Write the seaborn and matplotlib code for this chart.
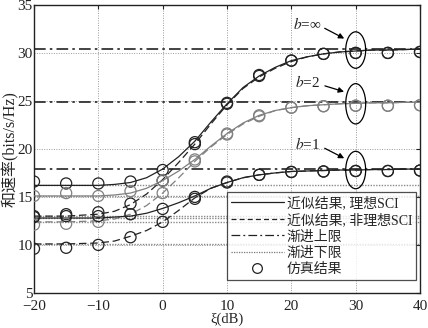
import numpy as np
import pandas as pd
import matplotlib
matplotlib.use("Agg")
import matplotlib.pyplot as plt
from matplotlib.patches import Ellipse
from matplotlib.lines import Line2D
import seaborn as sns

# SNR axis (dB) for analytic curves and simulation points
xi_curve = [-20, -17.5, -15, -12.5, -10, -7.5, -5, -2.5, 0, 2.5, 5, 7.5, 10,
            12.5, 15, 17.5, 20, 22.5, 25, 27.5, 30, 32.5, 35, 37.5, 40]
xi_sim = [-20, -15, -10, -5, 0, 5, 10, 15, 20, 25, 30, 35, 40]

# analytic approximations (bits/s/Hz)
binf_ideal = [16.2, 16.2, 16.2, 16.2, 16.2, 16.3, 16.5, 17.0, 17.9, 19.2, 20.8, 22.8, 24.7,
              26.4, 27.6, 28.5, 29.2, 29.6, 29.9, 30.1, 30.2, 30.3, 30.3, 30.35, 30.4]
binf_nonideal = [13.0, 13.0, 13.0, 13.1, 13.2, 13.5, 14.2, 15.3, 16.8, 18.6, 20.5, 22.6, 24.6,
                 26.3, 27.5, 28.4, 29.1, 29.6, 29.9, 30.1, 30.2, 30.3, 30.3, 30.35, 30.4]
b2_ideal = [15.1, 15.1, 15.1, 15.1, 15.1, 15.2, 15.4, 15.9, 16.7, 17.7, 18.9, 20.3, 21.6,
            22.7, 23.5, 24.0, 24.3, 24.5, 24.6, 24.7, 24.75, 24.8, 24.8, 24.85, 24.85]
b2_nonideal = [12.4, 12.4, 12.4, 12.45, 12.5, 12.7, 13.2, 14.1, 15.4, 17.0, 18.7, 20.2, 21.5,
               22.6, 23.4, 24.0, 24.3, 24.5, 24.6, 24.7, 24.75, 24.8, 24.8, 24.85, 24.85]
b1_ideal = [12.8, 12.8, 12.8, 12.8, 12.8, 12.9, 13.0, 13.3, 13.8, 14.4, 15.1, 15.9, 16.5,
            17.0, 17.3, 17.5, 17.65, 17.7, 17.75, 17.8, 17.8, 17.85, 17.85, 17.9, 17.9]
b1_nonideal = [10.1, 10.1, 10.1, 10.15, 10.2, 10.4, 10.9, 11.5, 12.4, 13.6, 14.9, 15.9, 16.5,
               17.0, 17.3, 17.5, 17.65, 17.7, 17.75, 17.8, 17.8, 17.85, 17.85, 17.9, 17.9]

# Monte-Carlo simulation results
sim_binf_ideal = [16.6, 16.4, 16.4, 16.6, 17.8, 20.7, 24.8, 27.7, 29.2, 29.9, 30.0, 30.0, 30.1]
sim_binf_nonideal = [13.0, 13.2, 13.4, 14.3, 16.7, 20.5, 24.7, 27.6, 29.2, 29.9, 30.0, 30.0, 30.1]
sim_b2_ideal = [15.1, 15.4, 15.1, 15.6, 16.7, 18.9, 21.6, 23.5, 24.3, 24.45, 24.5, 24.5, 24.55]
sim_b2_nonideal = [12.1, 12.2, 12.4, 13.2, 15.4, 18.7, 21.5, 23.4, 24.3, 24.45, 24.5, 24.5, 24.55]
sim_b1_ideal = [12.9, 13.0, 13.0, 13.2, 13.75, 15.0, 16.6, 17.3, 17.6, 17.65, 17.7, 17.7, 17.75]
sim_b1_nonideal = [9.6, 9.7, 10.0, 10.8, 12.4, 14.8, 16.5, 17.3, 17.6, 17.65, 17.7, 17.7, 17.75]

# asymptotic bounds
upper_bounds = [30.4, 24.9, 17.9]
lower_bounds = [16.2, 15.1, 13.0, 12.8, 12.4, 10.1]

x_ticks = [-20, -10, 0, 10, 20, 30, 40]
y_ticks = [5, 10, 15, 20, 25, 30, 35]

sns.set_style("white")
plt.rcParams["font.family"] = ["Liberation Serif", "Noto Sans CJK SC"]
plt.rcParams["mathtext.fontset"] = "stix"

fig = plt.figure(figsize=(4.28, 3.28), dpi=100)
ax = fig.add_axes([0.0794, 0.107, 0.902, 0.878])

BLACK = "#222222"
GRAY = "#808080"

curves = [
    ("binf_ideal", binf_ideal, BLACK, "-"),
    ("binf_nonideal", binf_nonideal, BLACK, (0, (6, 3))),
    ("b2_ideal", b2_ideal, GRAY, "-"),
    ("b2_nonideal", b2_nonideal, GRAY, (0, (6, 3))),
    ("b1_ideal", b1_ideal, BLACK, "-"),
    ("b1_nonideal", b1_nonideal, BLACK, (0, (6, 3))),
]
sims = [
    (sim_binf_ideal, BLACK), (sim_binf_nonideal, BLACK),
    (sim_b2_ideal, GRAY), (sim_b2_nonideal, GRAY),
    (sim_b1_ideal, BLACK), (sim_b1_nonideal, BLACK),
]

dashdot = (0, (7, 2.5, 1.5, 2.5))

# grid
ax.set_xlim(-20, 40)
ax.set_ylim(5, 35)
ax.set_xticks(x_ticks)
ax.set_yticks(y_ticks)
ax.grid(True, color="#9a9a9a", linestyle=(0, (1, 1.5)), linewidth=0.7)
ax.set_axisbelow(True)

# asymptotes
for v in lower_bounds:
    ax.axhline(v, color="#8a8a8a", linestyle=(0, (1, 1)), linewidth=1.0, zorder=1)
for v in upper_bounds:
    ax.axhline(v, color=BLACK, linestyle=dashdot, linewidth=1.2, zorder=2)

# analytic curves
for name, vals, col, ls in curves:
    df = pd.DataFrame({"xi": xi_curve, "rate": vals})
    sns.lineplot(data=df, x="xi", y="rate", ax=ax, color=col, linewidth=0.9,
                 linestyle=ls, zorder=3)

# simulation markers
for vals, col in sims:
    df = pd.DataFrame({"xi": xi_sim, "rate": vals})
    sns.scatterplot(data=df, x="xi", y="rate", ax=ax, marker="o", s=64,
                    facecolor="none", edgecolor=col, linewidth=0.9, zorder=4)

# annotations: ellipses with arrows
for yc, h, label, ty in [(30.3, 3.8, r"$b$=∞", 33.0), (24.7, 4.2, r"$b$=2", 26.95),
                         (17.8, 3.9, r"$b$=1", 20.5)]:
    ax.add_patch(Ellipse((30, yc), 3.1, h, fill=False, edgecolor="black",
                         linewidth=0.9, zorder=5))
    ax.annotate("", xy=(28.6, yc + h * 0.28), xytext=(24.8, ty - 0.3),
                arrowprops=dict(arrowstyle="-|>", color="black", lw=0.9,
                                mutation_scale=8))
    ax.text(22.5, ty, label, ha="center", va="center", fontsize=11, color=BLACK)

for s in ax.spines.values():
    s.set_color(BLACK)
    s.set_linewidth(1.0)
ax.tick_params(axis="both", labelsize=11, length=3, direction="in", colors=BLACK,
               top=True, right=True)
ax.tick_params(axis="x", pad=5)
ax.tick_params(axis="y", pad=1)
ax.set_xlabel("ξ(dB)", fontsize=10.5)
ax.xaxis.set_label_coords(0.5, -0.068)
ax.set_ylabel("和速率(bits/s/Hz)", fontsize=11.5, labelpad=-1)

# legend
handles = [
    Line2D([], [], color=BLACK, linestyle="-", linewidth=0.9),
    Line2D([], [], color=BLACK, linestyle=(0, (4, 2.5)), linewidth=0.9),
    Line2D([], [], color=BLACK, linestyle=dashdot, linewidth=0.9),
    Line2D([], [], color="#777777", linestyle=(0, (1, 1)), linewidth=0.9),
    Line2D([], [], color=BLACK, linestyle="none", marker="o", markersize=7,
           markerfacecolor="none", markeredgewidth=0.9),
]
labels = ["近似结果, 理想SCI", "近似结果, 非理想SCI", "渐进上限", "渐进下限", "仿真结果"]
leg = ax.legend(handles, labels, loc="lower right", bbox_to_anchor=(0.99, 0.045),
                fontsize=10, frameon=True, fancybox=False, handlelength=3.8,
                handletextpad=0.2, borderpad=0.3, labelspacing=0.22,
                borderaxespad=0)
leg.get_frame().set_edgecolor(BLACK)
leg.get_frame().set_linewidth(0.9)
leg.set_zorder(6)

fig.savefig("out.png", dpi=100)
